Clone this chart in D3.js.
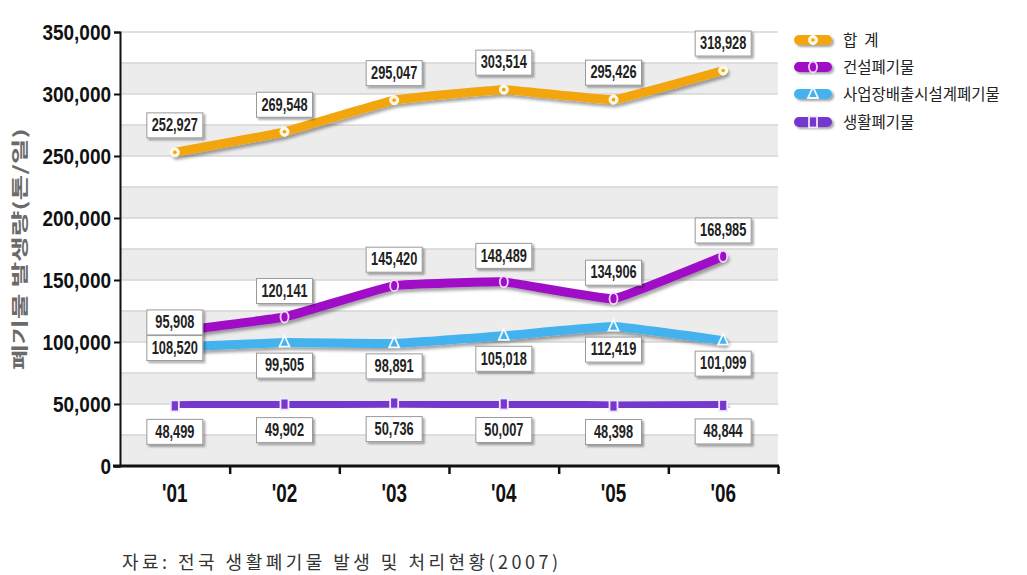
<!DOCTYPE html>
<html><head><meta charset="utf-8">
<script src="https://cdn.jsdelivr.net/npm/d3@7/dist/d3.min.js"></script>
<style>
html,body{margin:0;padding:0;background:#fff;}
svg{display:block;}
.num{font-family:"Liberation Sans",Arial,sans-serif;font-weight:bold;}
.kr{font-family:"Noto Sans CJK KR","Noto Sans",sans-serif;}
</style></head>
<body>
<svg id="c" width="1027" height="575"></svg>
<script>
// ---- data ----
const years = ["'01", "'02", "'03", "'04", "'05", "'06"];
const totalWaste        = [252927, 269548, 295047, 303514, 295426, 318928];
const constructionWaste = [108520, 120141, 145420, 148489, 134906, 168985];
const industrialWaste   = [95908, 99505, 98891, 105018, 112419, 101099];
const municipalWaste    = [48499, 49902, 50736, 50007, 48398, 48844];
// numbers printed in the label boxes (the '01 pair is printed swapped in the source)
const totalLabels        = [252927, 269548, 295047, 303514, 295426, 318928];
const constructionLabels = [95908, 120141, 145420, 148489, 134906, 168985];
const industrialLabels   = [108520, 99505, 98891, 105018, 112419, 101099];
const municipalLabels    = [48499, 49902, 50736, 50007, 48398, 48844];
const seriesNames = ["합  계", "건설폐기물", "사업장배출시설계폐기물", "생활폐기물"];
const yTicks = [0, 50000, 100000, 150000, 200000, 250000, 300000, 350000];
const yTitle = "폐기물 발생량(톤/일)";
const sourceNote = "자료: 전국 생활폐기물 발생 및 처리현황(2007)";

// ---- layout ----
const L = 120, R = 778, T = 32, B = 466;
const svg = d3.select("#c");
const defs = svg.append("defs");
const sh = defs.append("filter").attr("id","sh").attr("x","-20%").attr("y","-50%").attr("width","140%").attr("height","200%");
sh.append("feDropShadow").attr("dx",2).attr("dy",3).attr("stdDeviation",1.8).attr("flood-color","#000").attr("flood-opacity",0.35);
const bs = defs.append("filter").attr("id","bs").attr("x","-20%").attr("y","-30%").attr("width","150%").attr("height","170%");
bs.append("feDropShadow").attr("dx",2).attr("dy",2).attr("stdDeviation",1.2).attr("flood-color","#000").attr("flood-opacity",0.35);

const y = d3.scaleLinear().domain([0, 350000]).range([B, T]);
const xi = d3.scaleLinear().domain([0, years.length]).range([L, R]);
const xc = i => xi(i + 0.5);

// background bands
const bandStarts = d3.range(0, 350000, 25000);
svg.append("g").selectAll("rect").data(bandStarts).join("rect")
  .attr("x", L).attr("width", R - L)
  .attr("y", d => y(d + 25000)).attr("height", d => y(d) - y(d + 25000))
  .attr("fill", (d, i) => i % 2 === 0 ? "#ececec" : "#ffffff");
svg.append("g").selectAll("line").data(d3.range(25000, 350001, 25000)).join("line")
  .attr("x1", L).attr("x2", R).attr("y1", d => y(d)).attr("y2", d => y(d))
  .attr("stroke", "#d6d6d6").attr("stroke-width", 1.5);

// axes
const ya = svg.append("g").attr("transform", `translate(${L},0)`)
  .call(d3.axisLeft(y).tickValues(yTicks).tickFormat(d3.format(",")).tickSize(6).tickPadding(3));
ya.select(".domain").attr("stroke", "#111").attr("stroke-width", 2);
ya.selectAll(".tick line").attr("stroke", "#111").attr("stroke-width", 2);
ya.selectAll(".tick text").attr("class", "num").attr("font-size", 19).attr("fill", "#111")
  .attr("dy", "0.32em").attr("x", -9)
  .attr("transform", "scale(1,1.2)").attr("y", 0);

const xa = svg.append("g").attr("transform", `translate(0,${B})`)
  .call(d3.axisBottom(xi).tickValues(d3.range(1, years.length + 1)).tickFormat("").tickSize(8));
xa.select(".domain").remove();
xa.selectAll(".tick line").attr("stroke", "#111").attr("stroke-width", 2.5);
svg.append("line").attr("x1", L - 7).attr("x2", R + 1).attr("y1", B).attr("y2", B)
  .attr("stroke", "#111").attr("stroke-width", 3);
svg.append("g").selectAll("text").data(years).join("text")
  .attr("class", "num").attr("font-size", 21).attr("fill", "#111")
  .attr("text-anchor", "middle")
  .attr("transform", (d, i) => `translate(${xc(i)},${B + 36}) scale(0.9,1.25)`)
  .text(d => d);

// y title
svg.append("text").attr("class", "kr").attr("font-size", 17).attr("font-weight", "bold")
  .attr("fill", "#6a6a6a").attr("text-anchor", "middle")
  .attr("transform", `translate(26,${249}) rotate(-90)`)
  .attr("textLength", 242).attr("lengthAdjust", "spacingAndGlyphs")
  .text(yTitle);

// series
const series = [
  {vals: totalWaste, labels: totalLabels, color: "#F2A50A", marker: "circ", dy: -27},
  {vals: constructionWaste, labels: constructionLabels, color: "#A00EC6", marker: "oval", dy: -26},
  {vals: industrialWaste, labels: industrialLabels, color: "#44B2F0", marker: "tri", dy: 23},
  {vals: municipalWaste, labels: municipalLabels, color: "#7537CC", marker: "sq", dy: 26}
];
const line = d3.line().x((d, i) => xc(i)).y(d => y(d)).curve(d3.curveCardinal.tension(0.75));

function drawMarker(g, type, color, cx, cy) {
  if (type === "circ") {
    g.append("circle").attr("cx", cx).attr("cy", cy).attr("r", 4.5).attr("fill", "#fff8e0").attr("stroke", "#fff").attr("stroke-width", 1);
    g.append("circle").attr("cx", cx).attr("cy", cy).attr("r", 1.8).attr("fill", color);
  } else if (type === "oval") {
    g.append("ellipse").attr("cx", cx).attr("cy", cy).attr("rx", 4).attr("ry", 5.5).attr("fill", color).attr("stroke", "#f4d8ff").attr("stroke-width", 1.8);
  } else if (type === "tri") {
    g.append("path").attr("d", `M${cx},${cy-7}L${cx+5},${cy+4}L${cx-5},${cy+4}Z`).attr("fill", color).attr("stroke", "#f4fbff").attr("stroke-width", 1.8);
  } else {
    g.append("rect").attr("x", cx - 4).attr("y", cy - 5.5).attr("width", 8).attr("height", 11).attr("fill", color).attr("stroke", "#f0e6ff").attr("stroke-width", 1.8);
  }
}

const linesG = svg.append("g");
series.forEach(s => {
  linesG.append("path").datum(s.vals).attr("d", line).attr("fill", "none")
    .attr("stroke", s.color).attr("stroke-width", 9).attr("stroke-linecap", "round").attr("stroke-linejoin", "round")
    .attr("filter", "url(#sh)");
});
series.forEach(s => {
  s.vals.forEach((v, i) => drawMarker(linesG, s.marker, s.color, xc(i), y(v)));
});

// label boxes
const fmt = d3.format(",");
const labG = svg.append("g");
series.forEach((s, si) => {
  s.labels.forEach((v, i) => {
    let cy = y(s.vals[i]) + s.dy;
    if (i === 0 && si === 1) cy = y(s.vals[i]) - 9;
    if (i === 0 && si === 2) cy = y(s.vals[i]) + 1;
    const cx = xc(i);
    const g = labG.append("g").attr("transform", `translate(${cx},${cy})`);
    g.append("rect").attr("x", -28).attr("y", -12.5).attr("width", 56).attr("height", 25)
      .attr("fill", "#fff").attr("stroke", "#9a9a9a").attr("stroke-width", 1).attr("filter", "url(#bs)");
    g.append("text").attr("class", "num").attr("font-size", 16).attr("fill", "#222")
      .attr("text-anchor", "middle").attr("transform", "scale(0.8,1.15)").attr("y", 5)
      .text(fmt(v));
  });
});

// legend
const lg = svg.append("g");
const legendY = [40, 67, 94, 122];
series.forEach((s, i) => {
  const cy = legendY[i];
  lg.append("rect").attr("x", 794).attr("y", cy - 5).attr("width", 38).attr("height", 10).attr("rx", 5)
    .attr("fill", s.color).attr("filter", "url(#bs)");
  drawMarker(lg, s.marker, s.color, 813, cy);
  lg.append("text").attr("class", "kr").attr("x", 843).attr("y", cy + 6).attr("font-size", 15.5)
    .attr("fill", "#222").attr("xml:space", "preserve").text(seriesNames[i]);
});

// source
svg.append("text").attr("class", "kr").attr("x", 122).attr("y", 569).attr("font-size", 18)
  .attr("fill", "#333").attr("textLength", 436).attr("lengthAdjust", "spacing")
  .text(sourceNote);
</script>
</body></html>
